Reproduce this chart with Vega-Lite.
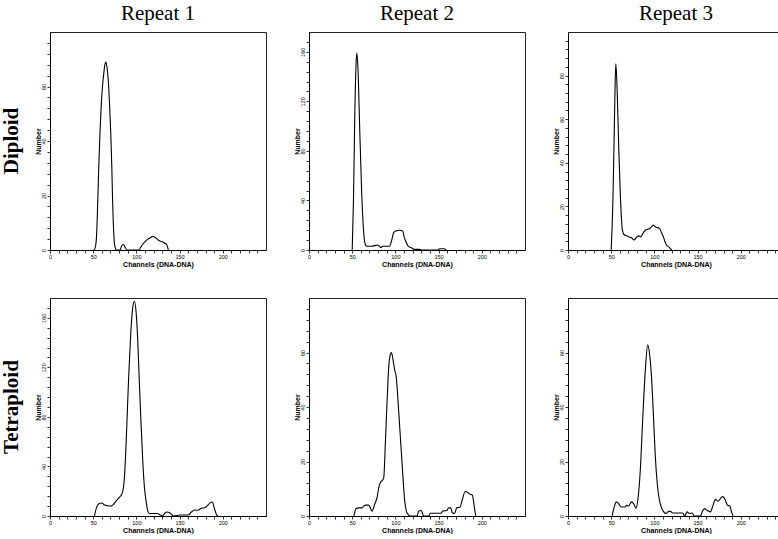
{
  "$schema": "https://vega.github.io/schema/vega-lite/v6.json",
  "padding": {"left": 0, "top": 2, "right": 0, "bottom": 0},
  "background": "white",
  "config": {
    "view": {"stroke": "#222", "strokeWidth": 1},
    "title": {"font": "Liberation Serif", "fontSize": 21, "fontWeight": "normal", "color": "black", "offset": 8},
    "axis": {"domainColor": "black", "tickColor": "black", "tickSize": 3, "tickWidth": 0.8, "domainWidth": 1,
      "labelFont": "Liberation Sans", "labelFontSize": 5.5, "labelColor": "black", "labelOverlap": false, "labelFlush": false, "labelPadding": 1,
      "titleFont": "Liberation Sans", "titleFontSize": 7, "titleFontWeight": "bold", "titleColor": "black", "grid": false},
    "axisY": {"labelAngle": 270, "labelAlign": "center", "labelBaseline": "bottom", "titlePadding": 0},
    "axisX": {"titlePadding": 1},
    "line": {"color": "black", "strokeWidth": 1.1, "interpolate": "monotone"}
  },
  "datasets": {
    "hist": [
      {"p":"D1","ch":50,"n":0},{"p":"D1","ch":51,"n":0},{"p":"D1","ch":53,"n":2},{"p":"D1","ch":54,"n":6},{"p":"D1","ch":55,"n":15},{"p":"D1","ch":56.5,"n":31},{"p":"D1","ch":58,"n":44},{"p":"D1","ch":59.6,"n":55},{"p":"D1","ch":61,"n":61},{"p":"D1","ch":62.3,"n":65},{"p":"D1","ch":63.5,"n":68},{"p":"D1","ch":64.6,"n":69},{"p":"D1","ch":66,"n":67},{"p":"D1","ch":67.5,"n":62},{"p":"D1","ch":69,"n":53},{"p":"D1","ch":70.3,"n":43},{"p":"D1","ch":71.5,"n":31},{"p":"D1","ch":72.3,"n":20},{"p":"D1","ch":73,"n":12.5},{"p":"D1","ch":74,"n":5},{"p":"D1","ch":75,"n":1.5},{"p":"D1","ch":77,"n":0},{"p":"D1","ch":81,"n":0},{"p":"D1","ch":83,"n":1.5},{"p":"D1","ch":85,"n":2},{"p":"D1","ch":87,"n":1},{"p":"D1","ch":89,"n":0},{"p":"D1","ch":103,"n":0},{"p":"D1","ch":105,"n":1},{"p":"D1","ch":107,"n":2},{"p":"D1","ch":110,"n":3},{"p":"D1","ch":113,"n":4},{"p":"D1","ch":116,"n":4.5},{"p":"D1","ch":119,"n":5},{"p":"D1","ch":121,"n":4.8},{"p":"D1","ch":124,"n":4},{"p":"D1","ch":127,"n":3.3},{"p":"D1","ch":130,"n":3},{"p":"D1","ch":133,"n":2.5},{"p":"D1","ch":135,"n":2},{"p":"D1","ch":137,"n":0},
      {"p":"D2","ch":50,"n":0},{"p":"D2","ch":51.5,"n":41},{"p":"D2","ch":53,"n":109},{"p":"D2","ch":54.6,"n":152},{"p":"D2","ch":55.4,"n":159},{"p":"D2","ch":57,"n":141},{"p":"D2","ch":58.8,"n":95},{"p":"D2","ch":61,"n":46},{"p":"D2","ch":63,"n":17},{"p":"D2","ch":65.4,"n":4},{"p":"D2","ch":67,"n":3},{"p":"D2","ch":72,"n":3},{"p":"D2","ch":76,"n":3.5},{"p":"D2","ch":79.6,"n":4},{"p":"D2","ch":81.5,"n":3},{"p":"D2","ch":83.5,"n":2},{"p":"D2","ch":85,"n":3},{"p":"D2","ch":93,"n":3},{"p":"D2","ch":96,"n":8.6},{"p":"D2","ch":98,"n":14},{"p":"D2","ch":100.8,"n":15.4},{"p":"D2","ch":104.6,"n":16},{"p":"D2","ch":108.5,"n":15.4},{"p":"D2","ch":110,"n":11},{"p":"D2","ch":112,"n":7},{"p":"D2","ch":115,"n":3},{"p":"D2","ch":118,"n":2},{"p":"D2","ch":122,"n":0.5},{"p":"D2","ch":127.7,"n":0.5},{"p":"D2","ch":131.5,"n":0},{"p":"D2","ch":149,"n":0},{"p":"D2","ch":151,"n":1},{"p":"D2","ch":156.5,"n":1},{"p":"D2","ch":158.5,"n":0},
      {"p":"D3","ch":50,"n":0},{"p":"D3","ch":52,"n":23},{"p":"D3","ch":53.5,"n":54},{"p":"D3","ch":54.6,"n":77},{"p":"D3","ch":55.4,"n":85.4},{"p":"D3","ch":57,"n":72},{"p":"D3","ch":58.8,"n":46},{"p":"D3","ch":60.8,"n":23},{"p":"D3","ch":63,"n":9},{"p":"D3","ch":65,"n":7},{"p":"D3","ch":68,"n":6.5},{"p":"D3","ch":70.4,"n":6},{"p":"D3","ch":73.8,"n":5.5},{"p":"D3","ch":76.5,"n":4.6},{"p":"D3","ch":79.6,"n":6},{"p":"D3","ch":82,"n":6.5},{"p":"D3","ch":84,"n":6},{"p":"D3","ch":87.3,"n":8},{"p":"D3","ch":90,"n":9.2},{"p":"D3","ch":92.3,"n":9.5},{"p":"D3","ch":95,"n":10},{"p":"D3","ch":97,"n":10.8},{"p":"D3","ch":98.8,"n":11.5},{"p":"D3","ch":100.8,"n":10.8},{"p":"D3","ch":102.7,"n":10.3},{"p":"D3","ch":105.8,"n":10},{"p":"D3","ch":108.5,"n":7.7},{"p":"D3","ch":110.4,"n":6},{"p":"D3","ch":112.3,"n":3.8},{"p":"D3","ch":114,"n":2.3},{"p":"D3","ch":117.3,"n":1.2},{"p":"D3","ch":120,"n":0},
      {"p":"T1","ch":51.5,"n":0},{"p":"T1","ch":53.9,"n":7},{"p":"T1","ch":57,"n":10},{"p":"T1","ch":60,"n":10.5},{"p":"T1","ch":62.8,"n":9},{"p":"T1","ch":66.7,"n":8.3},{"p":"T1","ch":70.5,"n":8},{"p":"T1","ch":73,"n":9},{"p":"T1","ch":76.4,"n":12},{"p":"T1","ch":80.2,"n":15},{"p":"T1","ch":83,"n":17.5},{"p":"T1","ch":85,"n":23},{"p":"T1","ch":86.8,"n":39},{"p":"T1","ch":88.8,"n":71},{"p":"T1","ch":91,"n":111.6},{"p":"T1","ch":93.4,"n":146.5},{"p":"T1","ch":95.7,"n":168},{"p":"T1","ch":97.7,"n":173.4},{"p":"T1","ch":99.6,"n":165},{"p":"T1","ch":101.6,"n":141},{"p":"T1","ch":103.5,"n":106},{"p":"T1","ch":105.4,"n":74},{"p":"T1","ch":107.4,"n":44},{"p":"T1","ch":109.3,"n":23},{"p":"T1","ch":111.2,"n":12},{"p":"T1","ch":113.2,"n":4},{"p":"T1","ch":115,"n":2},{"p":"T1","ch":123,"n":2},{"p":"T1","ch":126.7,"n":1.3},{"p":"T1","ch":130,"n":0},{"p":"T1","ch":132.6,"n":2},{"p":"T1","ch":135.3,"n":3.2},{"p":"T1","ch":138.4,"n":2.7},{"p":"T1","ch":141.5,"n":0.8},{"p":"T1","ch":143,"n":0},{"p":"T1","ch":150,"n":0.8},{"p":"T1","ch":160,"n":0.8},{"p":"T1","ch":163.6,"n":3.2},{"p":"T1","ch":167.4,"n":4.8},{"p":"T1","ch":171.3,"n":4.6},{"p":"T1","ch":175,"n":6.2},{"p":"T1","ch":179,"n":6.7},{"p":"T1","ch":183,"n":8.9},{"p":"T1","ch":185.7,"n":10.8},{"p":"T1","ch":188,"n":11.3},{"p":"T1","ch":190,"n":6.7},{"p":"T1","ch":192.6,"n":1.3},{"p":"T1","ch":194.6,"n":0},
      {"p":"T2","ch":52,"n":0},{"p":"T2","ch":54.6,"n":2.8},{"p":"T2","ch":57.7,"n":3},{"p":"T2","ch":61.5,"n":3},{"p":"T2","ch":63.5,"n":3.7},{"p":"T2","ch":66,"n":4},{"p":"T2","ch":69,"n":4},{"p":"T2","ch":71,"n":3},{"p":"T2","ch":73,"n":1.8},{"p":"T2","ch":76,"n":4.3},{"p":"T2","ch":78.8,"n":6.8},{"p":"T2","ch":80.8,"n":10.5},{"p":"T2","ch":82.7,"n":12.3},{"p":"T2","ch":84.6,"n":13},{"p":"T2","ch":86.5,"n":14},{"p":"T2","ch":88.5,"n":27.7},{"p":"T2","ch":90.4,"n":42.4},{"p":"T2","ch":92.3,"n":54.7},{"p":"T2","ch":94.2,"n":59.4},{"p":"T2","ch":95.4,"n":60},{"p":"T2","ch":97.3,"n":57.2},{"p":"T2","ch":99.2,"n":53.5},{"p":"T2","ch":101,"n":51},{"p":"T2","ch":103,"n":42.4},{"p":"T2","ch":105,"n":32.6},{"p":"T2","ch":107,"n":22.8},{"p":"T2","ch":108.8,"n":14},{"p":"T2","ch":110.8,"n":5.5},{"p":"T2","ch":112.7,"n":1.8},{"p":"T2","ch":114.6,"n":0.6},{"p":"T2","ch":117.3,"n":0},{"p":"T2","ch":125,"n":0},{"p":"T2","ch":127,"n":1.8},{"p":"T2","ch":130,"n":2},{"p":"T2","ch":132.7,"n":0},{"p":"T2","ch":138.5,"n":0},{"p":"T2","ch":140.4,"n":1},{"p":"T2","ch":153,"n":1},{"p":"T2","ch":154.6,"n":1.8},{"p":"T2","ch":159.6,"n":2},{"p":"T2","ch":161.5,"n":3},{"p":"T2","ch":163.8,"n":3},{"p":"T2","ch":166,"n":1.2},{"p":"T2","ch":168.5,"n":0.9},{"p":"T2","ch":171,"n":3},{"p":"T2","ch":175,"n":3.3},{"p":"T2","ch":177,"n":5.5},{"p":"T2","ch":180.8,"n":9},{"p":"T2","ch":183.8,"n":8.6},{"p":"T2","ch":186.5,"n":8},{"p":"T2","ch":189,"n":7.7},{"p":"T2","ch":191.5,"n":3},{"p":"T2","ch":193,"n":0},
      {"p":"T3","ch":51,"n":0},{"p":"T3","ch":54,"n":3.9},{"p":"T3","ch":56,"n":5.2},{"p":"T3","ch":58.7,"n":4.5},{"p":"T3","ch":61.8,"n":3.3},{"p":"T3","ch":65.6,"n":3.3},{"p":"T3","ch":68.3,"n":3.9},{"p":"T3","ch":70.3,"n":3.7},{"p":"T3","ch":73.4,"n":5.2},{"p":"T3","ch":76,"n":4.5},{"p":"T3","ch":78.8,"n":2.9},{"p":"T3","ch":81,"n":6.4},{"p":"T3","ch":83.8,"n":17.4},{"p":"T3","ch":86.5,"n":35.8},{"p":"T3","ch":89.6,"n":54},{"p":"T3","ch":92.3,"n":62.8},{"p":"T3","ch":94.6,"n":59},{"p":"T3","ch":96.5,"n":51.8},{"p":"T3","ch":98.5,"n":39.5},{"p":"T3","ch":101,"n":22.3},{"p":"T3","ch":103.5,"n":11.3},{"p":"T3","ch":105.8,"n":5.8},{"p":"T3","ch":108,"n":3.3},{"p":"T3","ch":110.8,"n":1.5},{"p":"T3","ch":113.5,"n":0.9},{"p":"T3","ch":116.6,"n":1.7},{"p":"T3","ch":118.5,"n":1.7},{"p":"T3","ch":121.2,"n":1.1},{"p":"T3","ch":126.3,"n":1.1},{"p":"T3","ch":132.8,"n":1.1},{"p":"T3","ch":135,"n":0},{"p":"T3","ch":137.8,"n":1.5},{"p":"T3","ch":140.5,"n":0.9},{"p":"T3","ch":143.6,"n":1.1},{"p":"T3","ch":146.3,"n":0},{"p":"T3","ch":153.3,"n":0},{"p":"T3","ch":155.2,"n":1.5},{"p":"T3","ch":158.3,"n":2.7},{"p":"T3","ch":161,"n":2.1},{"p":"T3","ch":164.9,"n":1.5},{"p":"T3","ch":167.6,"n":3.7},{"p":"T3","ch":170.7,"n":6.1},{"p":"T3","ch":173.7,"n":5.4},{"p":"T3","ch":176.4,"n":6.4},{"p":"T3","ch":179.2,"n":7.1},{"p":"T3","ch":182.2,"n":5.8},{"p":"T3","ch":184.6,"n":3.9},{"p":"T3","ch":187.3,"n":3.7},{"p":"T3","ch":189.2,"n":1.5},{"p":"T3","ch":191,"n":0}
    ],
    "rows": [{"label": "Diploid"}, {"label": "Tetraploid"}]
  },
  "spacing": 29,
  "vconcat": [
    {
      "spacing": 11,
      "hconcat": [
        {"width": 18, "height": 218, "title": " ", "view": {"stroke": null},
         "data": {"name": "rows"}, "transform": [{"filter": "datum.label === 'Diploid'"}],
         "mark": {"type": "text", "angle": 270, "font": "Liberation Serif", "fontSize": 21, "fontWeight": "bold", "color": "black", "align": "center", "baseline": "middle"},
         "encoding": {"text": {"field": "label"}}},
        {"spacing": 25, "hconcat": [
          {"width": 216, "height": 218, "title": "Repeat 1", "data": {"name": "hist"}, "transform": [{"filter": "datum.p === 'D1'"}], "mark": "line",
           "encoding": {
             "x": {"field": "ch", "type": "quantitative", "scale": {"domain": [0, 250], "nice": false, "zero": false}, "axis": {"title": "Channels (DNA-DNA)", "values": [0,10,20,30,40,50,60,70,80,90,100,110,120,130,140,150,160,170,180,190,200,210,220,230,240], "labelExpr": "datum.value % 50 === 0 ? datum.label : ''"}},
             "y": {"field": "n", "type": "quantitative", "scale": {"domain": [0, 80], "nice": false}, "axis": {"title": "Number", "values": [0,4,8,12,16,20,24,28,32,36,40,44,48,52,56,60,64,68,72,76], "labelExpr": "datum.value % 20 === 0 ? datum.label : ''"}}}},
          {"width": 216, "height": 218, "title": "Repeat 2", "data": {"name": "hist"}, "transform": [{"filter": "datum.p === 'D2'"}], "mark": "line",
           "encoding": {
             "x": {"field": "ch", "type": "quantitative", "scale": {"domain": [0, 250], "nice": false, "zero": false}, "axis": {"title": "Channels (DNA-DNA)", "values": [0,10,20,30,40,50,60,70,80,90,100,110,120,130,140,150,160,170,180,190,200,210,220,230,240], "labelExpr": "datum.value % 50 === 0 ? datum.label : ''"}},
             "y": {"field": "n", "type": "quantitative", "scale": {"domain": [0, 176], "nice": false}, "axis": {"title": "Number", "values": [0,8,16,24,32,40,48,56,64,72,80,88,96,104,112,120,128,136,144,152,160,168], "labelExpr": "datum.value % 40 === 0 ? datum.label : ''"}}}},
          {"width": 216, "height": 218, "title": "Repeat 3", "data": {"name": "hist"}, "transform": [{"filter": "datum.p === 'D3'"}], "mark": "line",
           "encoding": {
             "x": {"field": "ch", "type": "quantitative", "scale": {"domain": [0, 250], "nice": false, "zero": false}, "axis": {"title": "Channels (DNA-DNA)", "values": [0,10,20,30,40,50,60,70,80,90,100,110,120,130,140,150,160,170,180,190,200,210,220,230,240], "labelExpr": "datum.value % 50 === 0 ? datum.label : ''"}},
             "y": {"field": "n", "type": "quantitative", "scale": {"domain": [0, 100], "nice": false}, "axis": {"title": "Number", "values": [0,4,8,12,16,20,24,28,32,36,40,44,48,52,56,60,64,68,72,76,80,84,88,92,96], "labelExpr": "datum.value % 20 === 0 ? datum.label : ''"}}}}
        ]}
      ]
    },
    {
      "spacing": 11,
      "hconcat": [
        {"width": 18, "height": 218, "view": {"stroke": null},
         "data": {"name": "rows"}, "transform": [{"filter": "datum.label === 'Tetraploid'"}],
         "mark": {"type": "text", "angle": 270, "font": "Liberation Serif", "fontSize": 21, "fontWeight": "bold", "color": "black", "align": "center", "baseline": "middle"},
         "encoding": {"text": {"field": "label"}}},
        {"spacing": 25, "hconcat": [
          {"width": 216, "height": 218, "data": {"name": "hist"}, "transform": [{"filter": "datum.p === 'T1'"}], "mark": "line",
           "encoding": {
             "x": {"field": "ch", "type": "quantitative", "scale": {"domain": [0, 250], "nice": false, "zero": false}, "axis": {"title": "Channels (DNA-DNA)", "values": [0,10,20,30,40,50,60,70,80,90,100,110,120,130,140,150,160,170,180,190,200,210,220,230,240], "labelExpr": "datum.value % 50 === 0 ? datum.label : ''"}},
             "y": {"field": "n", "type": "quantitative", "scale": {"domain": [0, 176], "nice": false}, "axis": {"title": "Number", "values": [0,8,16,24,32,40,48,56,64,72,80,88,96,104,112,120,128,136,144,152,160,168], "labelExpr": "datum.value % 40 === 0 ? datum.label : ''"}}}},
          {"width": 216, "height": 218, "data": {"name": "hist"}, "transform": [{"filter": "datum.p === 'T2'"}], "mark": "line",
           "encoding": {
             "x": {"field": "ch", "type": "quantitative", "scale": {"domain": [0, 250], "nice": false, "zero": false}, "axis": {"title": "Channels (DNA-DNA)", "values": [0,10,20,30,40,50,60,70,80,90,100,110,120,130,140,150,160,170,180,190,200,210,220,230,240], "labelExpr": "datum.value % 50 === 0 ? datum.label : ''"}},
             "y": {"field": "n", "type": "quantitative", "scale": {"domain": [0, 80], "nice": false}, "axis": {"title": "Number", "values": [0,4,8,12,16,20,24,28,32,36,40,44,48,52,56,60,64,68,72,76], "labelExpr": "datum.value % 20 === 0 ? datum.label : ''"}}}},
          {"width": 216, "height": 218, "data": {"name": "hist"}, "transform": [{"filter": "datum.p === 'T3'"}], "mark": "line",
           "encoding": {
             "x": {"field": "ch", "type": "quantitative", "scale": {"domain": [0, 250], "nice": false, "zero": false}, "axis": {"title": "Channels (DNA-DNA)", "values": [0,10,20,30,40,50,60,70,80,90,100,110,120,130,140,150,160,170,180,190,200,210,220,230,240], "labelExpr": "datum.value % 50 === 0 ? datum.label : ''"}},
             "y": {"field": "n", "type": "quantitative", "scale": {"domain": [0, 80], "nice": false}, "axis": {"title": "Number", "values": [0,4,8,12,16,20,24,28,32,36,40,44,48,52,56,60,64,68,72,76], "labelExpr": "datum.value % 20 === 0 ? datum.label : ''"}}}}
        ]}
      ]
    }
  ]
}
